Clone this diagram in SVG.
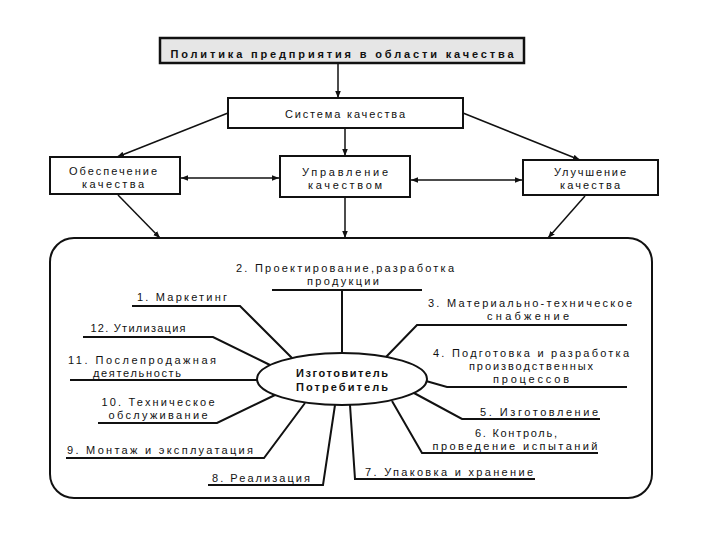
<svg xmlns="http://www.w3.org/2000/svg" width="720" height="540" viewBox="0 0 720 540">
<defs>
<marker id="ah" viewBox="0 0 10 10" refX="10" refY="5" markerWidth="7" markerHeight="7" orient="auto-start-reverse" markerUnits="userSpaceOnUse">
<path d="M0,1 L10,5 L0,9 z" fill="#111"/>
</marker>
<style>
.bx{fill:#fff;stroke:#111;stroke-width:2}
.t{font-family:"Liberation Sans",Arial,sans-serif;font-size:11px;fill:#111;text-anchor:middle}
.b{font-weight:bold}
.c{stroke:#111;stroke-width:1.5;fill:none}
.a{marker-end:url(#ah)}
.d{marker-start:url(#ah);marker-end:url(#ah)}
.s{stroke:#111;stroke-width:2;fill:none}
</style>
</defs>
<rect width="720" height="540" fill="#fff"/>

<g id="policy">
<rect x="160" y="38" width="364" height="25" fill="#e6e6e6" stroke="#111" stroke-width="2.5"/>
<text class="t b" x="342" y="58" font-size="13" textLength="343" lengthAdjust="spacing">Политика предприятия в области качества</text>
</g>
<g id="system">
<rect class="bx" x="228" y="98" width="235" height="30"/>
<text class="t" x="345" y="118" textLength="120" lengthAdjust="spacing">Система качества</text>
</g>
<g id="assurance">
<rect class="bx" x="50" y="157" width="130" height="37"/>
<text class="t" x="113" y="175" textLength="88" lengthAdjust="spacing">Обеспечение</text>
<text class="t" x="113" y="188" textLength="62" lengthAdjust="spacing">качества</text>
</g>
<g id="management">
<rect class="bx" x="280" y="156" width="130" height="41"/>
<text class="t" x="345" y="176" textLength="86" lengthAdjust="spacing">Управление</text>
<text class="t" x="345" y="189" textLength="74" lengthAdjust="spacing">качеством</text>
</g>
<g id="improvement">
<rect class="bx" x="523" y="160" width="135" height="35"/>
<text class="t" x="590" y="176" textLength="72" lengthAdjust="spacing">Улучшение</text>
<text class="t" x="590" y="189" textLength="60" lengthAdjust="spacing">качества</text>
</g>
<g id="process">
<rect class="bx" x="50" y="238" width="602" height="260" rx="24" ry="24"/>
</g>
<g id="center">
<ellipse cx="342" cy="379" rx="85" ry="26" fill="#fff" stroke="#111" stroke-width="2"/>
<text class="t b" x="342" y="377" font-size="12" textLength="92" lengthAdjust="spacing">Изготовитель</text>
<text class="t b" x="342" y="391" font-size="12" textLength="92" lengthAdjust="spacing">Потребитель</text>
</g>

<g id="connectors">
<line class="c a" x1="338" y1="63" x2="338" y2="98"/>
<line class="c a" x1="228" y1="113" x2="117" y2="157"/>
<line class="c a" x1="345" y1="128" x2="345" y2="156"/>
<line class="c a" x1="463" y1="113" x2="580" y2="160"/>
<line class="c d" x1="181" y1="178" x2="279" y2="178"/>
<line class="c d" x1="411" y1="180" x2="522" y2="180"/>
<line class="c a" x1="118" y1="195" x2="160" y2="238"/>
<line class="c a" x1="345" y1="198" x2="345" y2="238"/>
<line class="c a" x1="585" y1="196" x2="548" y2="238"/>
</g>

<g id="spokes">
<polyline class="s" points="272,290 422,290"/>
<polyline class="s" points="342,290 342,353"/>
<polyline class="s" points="132,306 240,306 292,358"/>
<polyline class="s" points="83,337 213,337 270,365"/>
<polyline class="s" points="70,380 257,380"/>
<polyline class="s" points="98,423 217,423 275,395"/>
<polyline class="s" points="66,458 264,458 305,403"/>
<polyline class="s" points="208,485 323,485 335,405"/>
<polyline class="s" points="350,405 355,479 535,479"/>
<polyline class="s" points="392,401 422,453 598,453"/>
<polyline class="s" points="414,393 462,419 600,419"/>
<polyline class="s" points="426,381 447,387 627,387"/>
<polyline class="s" points="386,357 417,325 627,325"/>
</g>

<g id="labels">
<text class="t" x="345" y="272" textLength="218" lengthAdjust="spacing">2. Проектирование,разработка</text>
<text class="t" x="343" y="285" textLength="72" lengthAdjust="spacing">продукции</text>
<text class="t" x="182" y="301" textLength="90" lengthAdjust="spacing">1. Маркетинг</text>
<text class="t" x="138" y="332" textLength="95" lengthAdjust="spacing">12. Утилизация</text>
<text class="t" x="530" y="307" textLength="204" lengthAdjust="spacing">3. Материально-техническое</text>
<text class="t" x="528" y="320" textLength="82" lengthAdjust="spacing">снабжение</text>
<text class="t" x="142" y="364" textLength="148" lengthAdjust="spacing">11. Послепродажная</text>
<text class="t" x="137" y="377" textLength="88" lengthAdjust="spacing">деятельность</text>
<text class="t" x="531" y="357" textLength="196" lengthAdjust="spacing">4. Подготовка и разработка</text>
<text class="t" x="531" y="370" textLength="124" lengthAdjust="spacing">производственных</text>
<text class="t" x="531" y="383" textLength="76" lengthAdjust="spacing">процессов</text>
<text class="t" x="158" y="406" textLength="113" lengthAdjust="spacing">10. Техническое</text>
<text class="t" x="158" y="419" textLength="99" lengthAdjust="spacing">обслуживание</text>
<text class="t" x="539" y="416" textLength="118" lengthAdjust="spacing">5. Изготовление</text>
<text class="t" x="516" y="437" textLength="82" lengthAdjust="spacing">6. Контроль,</text>
<text class="t" x="515" y="450" textLength="165" lengthAdjust="spacing">проведение испытаний</text>
<text class="t" x="160" y="454" textLength="186" lengthAdjust="spacing">9. Монтаж и эксплуатация</text>
<text class="t" x="261" y="482" textLength="98" lengthAdjust="spacing">8. Реализация</text>
<text class="t" x="449" y="476" textLength="168" lengthAdjust="spacing">7. Упаковка и хранение</text>
</g>
</svg>
